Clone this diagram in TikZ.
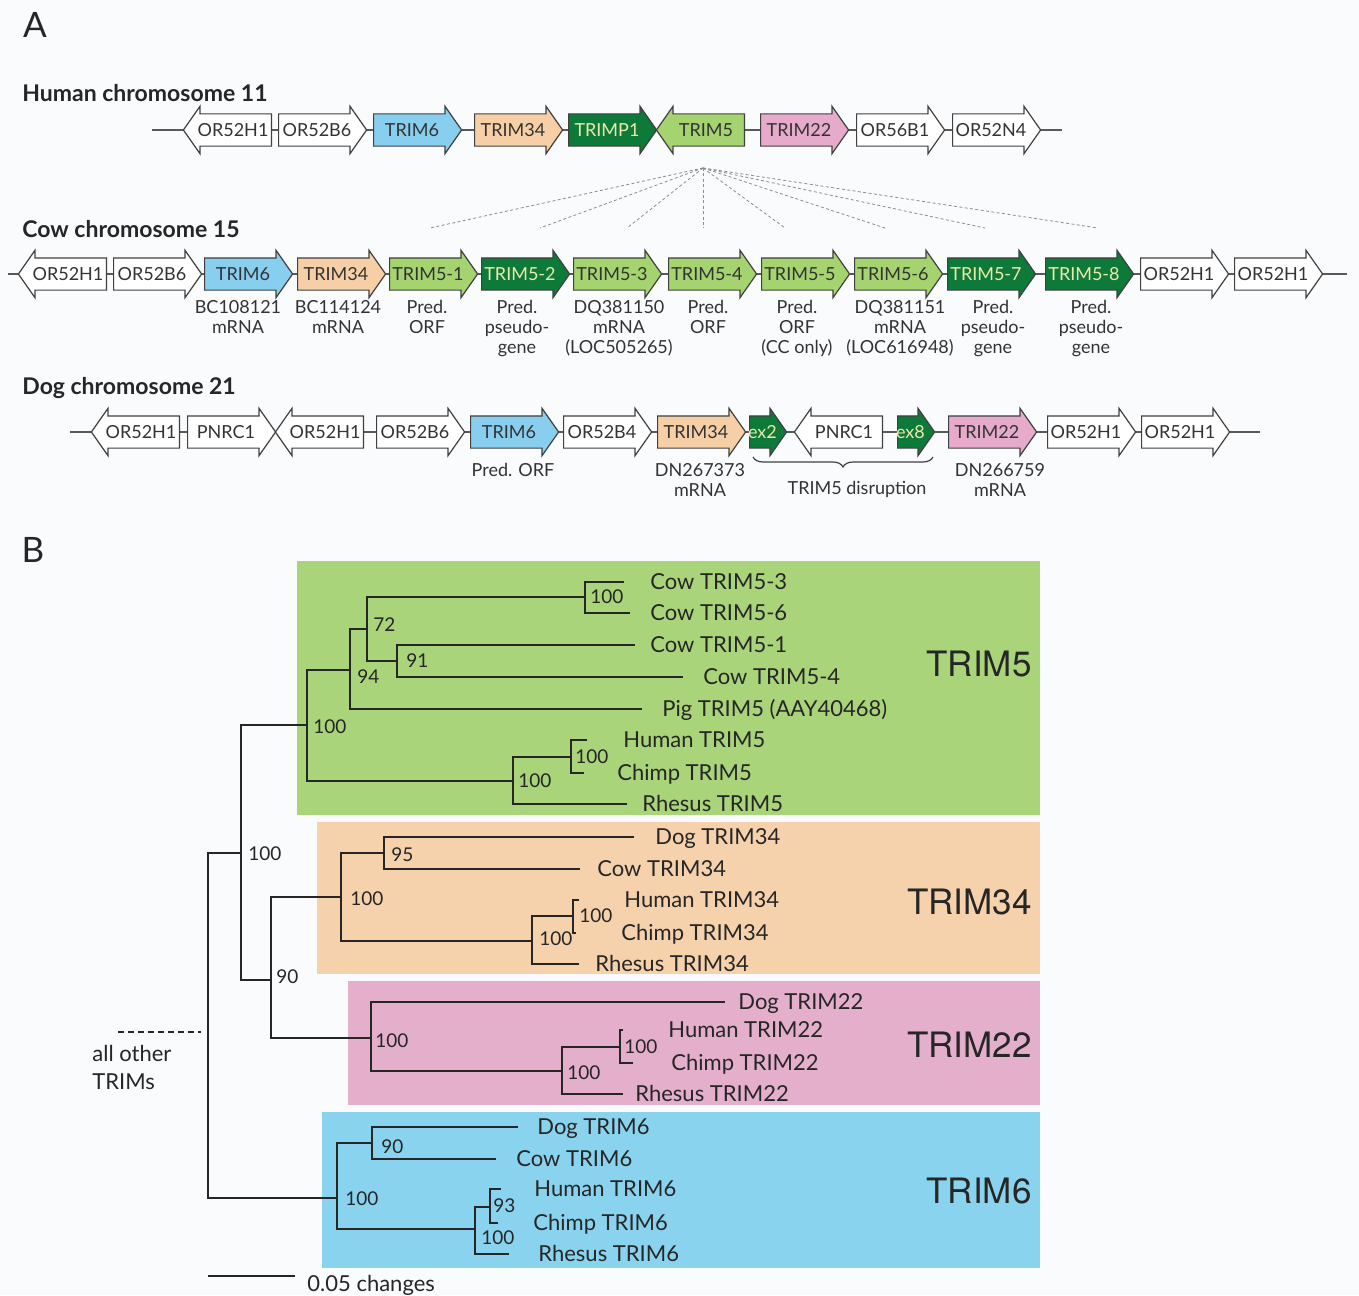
\documentclass[tikz,border=0pt]{standalone}
\usepackage{fontspec}
\setmainfont{Lato}
\newfontfamily\heros{TeX Gyre Heros}
\usetikzlibrary{shapes.arrows, decorations.pathreplacing, positioning}
\definecolor{paper}{HTML}{FAFBFD}
\definecolor{genesix}{HTML}{88CFEF}
\definecolor{genetf}{HTML}{F7CFA6}
\definecolor{genefive}{HTML}{A5D36F}
\definecolor{genedark}{HTML}{0D7A3A}
\definecolor{genett}{HTML}{E6AACB}
\definecolor{darklabel}{HTML}{EDE9A8}
\definecolor{boxfive}{HTML}{A9D47A}
\definecolor{boxtf}{HTML}{F6D2AC}
\definecolor{boxtt}{HTML}{E4AFCB}
\definecolor{boxsix}{HTML}{8AD3EF}

\begin{document}
\begin{tikzpicture}[x=0.5pt, y=-0.5pt,
    gene/.style={single arrow, draw=black!75, line width=0.6pt, fill=white, anchor=tail,
        minimum height=44pt, single arrow head extend=3.75pt, single arrow tip angle=110,
        inner xsep=-1pt, inner ysep=4.5pt, text height=6.5pt, text depth=0pt,
        font=\fontsize{9}{10}\selectfont, text=black!80},
    generev/.style={gene, shape border rotate=180},
    pseudo/.style={gene, fill=genedark, text=darklabel},
    exon/.style={pseudo, minimum height=18.5pt, inner xsep=-3pt},
    note/.style={font=\fontsize{9}{10}\selectfont, align=center, anchor=north, inner sep=0pt, text=black!80},
    chrom/.style={draw=black!65, line width=1pt},
    fanline/.style={draw=black!45, line width=0.4pt, dash pattern=on 1.5pt off 1.2pt},
    title/.style={font=\bfseries\fontsize{11.5}{12}\selectfont, anchor=west, inner sep=0pt, text height=8.3pt, text depth=0pt, text=black!85},
    panel/.style={font=\fontsize{17.5}{18}\selectfont, inner sep=0pt, text height=12.5pt, text depth=0pt, text=black!85},
    branch/.style={draw=black!85, line width=1pt},
    leaf/.style={font=\fontsize{11}{12}\selectfont, anchor=west, inner sep=0pt, text height=7.9pt, text depth=0pt, text=black!85},
    boot/.style={font=\fontsize{9.5}{10}\selectfont, anchor=west, inner sep=0pt, text height=6.8pt, text depth=0pt, text=black!85},
    clade/.style={font=\heros\fontsize{17.5}{18}\selectfont, anchor=east, inner sep=0pt, text height=12.6pt, text depth=0pt, text=black!85}
]
\fill[paper] (0,0) rectangle (1359,1295);
\useasboundingbox (0,0) rectangle (1359,1295);

\node[panel] (pA) at (35,25) {A};

\node[title] (humt) at (22,93) {Human chromosome 11};
\coordinate (hL) at (152,130);
\coordinate (hR) at (1062,130);
\draw[chrom] (hL) -- (hR);
\node[generev] (hOa) at (272,130) {OR52H1};
\node[gene] (hOb) at (278,130) {OR52B6};
\node[gene, fill=genesix] (hSix) at (373,130) {TRIM6};
\node[gene, fill=genetf] (hTf) at (474,130) {TRIM34};
\node[pseudo] (hP1) at (568,130) {TRIMP1};
\node[generev, fill=genefive] (hFive) at (745,130) {TRIM5};
\node[gene, fill=genett] (hTt) at (760,130) {TRIM22};
\node[gene] (hOc) at (856,130) {OR56B1};
\node[gene] (hOd) at (952,130) {OR52N4};

\coordinate (fan) at (703,168);
\foreach \x [count=\i] in {430,540,627,703,785,885,985,1098} {
    \coordinate (fe\i) at (\x,228);
    \draw[fanline] (fan) -- (fe\i);
}

\node[title] (cowt) at (22,229) {Cow chromosome 15};
\coordinate (cL) at (8,274);
\coordinate (cR) at (1347,274);
\draw[chrom] (cL) -- (cR);
\node[generev] (cOa) at (107,274) {OR52H1};
\node[gene] (cOb) at (113,274) {OR52B6};
\node[gene, fill=genesix] (cSix) at (204,274) {TRIM6};
\node[gene, fill=genetf] (cTf) at (297,274) {TRIM34};
\node[gene, fill=genefive] (cF1) at (389,274) {TRIM5-1};
\node[pseudo] (cF2) at (481,274) {TRIM5-2};
\node[gene, fill=genefive] (cF3) at (573,274) {TRIM5-3};
\node[gene, fill=genefive] (cF4) at (668,274) {TRIM5-4};
\node[gene, fill=genefive] (cF5) at (761,274) {TRIM5-5};
\node[gene, fill=genefive] (cF6) at (854,274) {TRIM5-6};
\node[pseudo] (cF7) at (947,274) {TRIM5-7};
\node[pseudo] (cF8) at (1045,274) {TRIM5-8};
\node[gene] (cOc) at (1140,274) {OR52H1};
\node[gene] (cOd) at (1234,274) {OR52H1};
\node[note] (cn1) at (238,300) {BC108121\\mRNA};
\node[note] (cn2) at (338,300) {BC114124\\mRNA};
\node[note] (cn3) at (427,300) {Pred.\\ORF};
\node[note] (cn4) at (517,300) {Pred.\\pseudo-\\gene};
\node[note] (cn5) at (619,300) {DQ381150\\mRNA\\(LOC505265)};
\node[note] (cn6) at (708,300) {Pred.\\ORF};
\node[note] (cn7) at (797,300) {Pred.\\ORF\\(CC only)};
\node[note] (cn8) at (900,300) {DQ381151\\mRNA\\(LOC616948)};
\node[note] (cn9) at (993,300) {Pred.\\pseudo-\\gene};
\node[note] (cn10) at (1091,300) {Pred.\\pseudo-\\gene};

\node[title] (dogt) at (22,386) {Dog chromosome 21};
\coordinate (dL) at (70,432);
\coordinate (dR) at (1260,432);
\draw[chrom] (dL) -- (dR);
\node[generev] (dOa) at (180,432) {OR52H1};
\node[gene] (dPa) at (187,432) {PNRC1};
\node[generev] (dOb) at (364,432) {OR52H1};
\node[gene] (dOc) at (376,432) {OR52B6};
\node[gene, fill=genesix] (dSix) at (470,432) {TRIM6};
\node[gene] (dOd) at (563,432) {OR52B4};
\node[gene, fill=genetf] (dTf) at (657,432) {TRIM34};
\node[exon] (dEx2) at (749,432) {ex2};
\node[generev] (dPb) at (883,432) {PNRC1};
\node[exon] (dEx8) at (897,432) {ex8};
\node[gene, fill=genett] (dTt) at (948,432) {TRIM22};
\node[gene] (dOe) at (1047,432) {OR52H1};
\node[gene] (dOf) at (1141,432) {OR52H1};
\node[note] (dn1) at (513,463) {Pred. ORF};
\node[note] (dn2) at (700,463) {DN267373\\mRNA};
\node[note] (dn3) at (1000,463) {DN266759\\mRNA};
\coordinate (brL) at (753,457);
\coordinate (brR) at (933,457);
\draw[decorate, decoration={brace, mirror, amplitude=5pt}, draw=black!75, line width=0.6pt] (brL) -- (brR);
\node[note] (dn4) at (857,481) {TRIM5 disruption};

\node[panel] (pB) at (33,550) {B};
\fill[boxfive] (297,561) rectangle (1040,815);
\fill[boxtf] (317,822) rectangle (1040,974);
\fill[boxtt] (348,981) rectangle (1040,1105);
\fill[boxsix] (322,1112) rectangle (1040,1268);
\node[clade] (kFive) at (1032,664) {TRIM5};
\node[clade] (kTf) at (1032,902) {TRIM34};
\node[clade] (kTt) at (1032,1045) {TRIM22};
\node[clade] (kSix) at (1032,1191) {TRIM6};

\coordinate (nRoot) at (208,1032);
\coordinate (nA) at (241,853);
\coordinate (nB) at (271,980);
\coordinate (nFive) at (307,725);
\coordinate (nF94) at (350,670);
\coordinate (nF72) at (367,629);
\coordinate (nF36) at (585,597);
\coordinate (nF91) at (397,661);
\coordinate (nFp) at (513,781);
\coordinate (nFhc) at (571,757);
\coordinate (nTf) at (341,897);
\coordinate (nTf95) at (384,853);
\coordinate (nTfp) at (532,941);
\coordinate (nTfhc) at (573,916);
\coordinate (nTt) at (371,1038);
\coordinate (nTtp) at (562,1071);
\coordinate (nTthc) at (620,1047);
\coordinate (nSix) at (337,1198);
\coordinate (nS90) at (372,1143);
\coordinate (nSp) at (475,1229);
\coordinate (nShc) at (490,1207);

\draw[branch] (nRoot) |- (nA);
\draw[branch] (nRoot) |- (nSix);
\draw[branch] (nA) |- (nFive);
\draw[branch] (nA) |- (nB);
\draw[branch] (nFive) |- (nF94);
\draw[branch] (nFive) |- (nFp);
\draw[branch] (nF94) |- (nF72);
\draw[branch] (nF72) |- (nF36);
\draw[branch] (nF72) |- (nF91);
\draw[branch] (nFp) |- (nFhc);
\draw[branch] (nB) |- (nTf);
\draw[branch] (nB) |- (nTt);
\draw[branch] (nTf) |- (nTf95);
\draw[branch] (nTf) |- (nTfp);
\draw[branch] (nTfp) |- (nTfhc);
\draw[branch] (nTt) |- (nTtp);
\draw[branch] (nTtp) |- (nTthc);
\draw[branch] (nSix) |- (nS90);
\draw[branch] (nSix) |- (nSp);
\draw[branch] (nSp) |- (nShc);

\node[leaf] (lF3) at (650,582) {Cow TRIM5-3};
\node[leaf] (lF6) at (650,613) {Cow TRIM5-6};
\node[leaf] (lF1) at (650,645) {Cow TRIM5-1};
\node[leaf] (lF4) at (703,677) {Cow TRIM5-4};
\node[leaf] (lFpig) at (662,709) {Pig TRIM5 (AAY40468)};
\node[leaf] (lFhu) at (623,740) {Human TRIM5};
\node[leaf] (lFch) at (617,773) {Chimp TRIM5};
\node[leaf] (lFrh) at (642,804) {Rhesus TRIM5};
\node[leaf] (lTfdo) at (655,837) {Dog TRIM34};
\node[leaf] (lTfco) at (597,869) {Cow TRIM34};
\node[leaf] (lTfhu) at (624,900) {Human TRIM34};
\node[leaf] (lTfch) at (621,933) {Chimp TRIM34};
\node[leaf] (lTfrh) at (595,964) {Rhesus TRIM34};
\node[leaf] (lTtdo) at (738,1002) {Dog TRIM22};
\node[leaf] (lTthu) at (668,1030) {Human TRIM22};
\node[leaf] (lTtch) at (671,1063) {Chimp TRIM22};
\node[leaf] (lTtrh) at (635,1094) {Rhesus TRIM22};
\node[leaf] (lSdo) at (537,1127) {Dog TRIM6};
\node[leaf] (lSco) at (516,1159) {Cow TRIM6};
\node[leaf] (lShu) at (534,1189) {Human TRIM6};
\node[leaf] (lSch) at (533,1223) {Chimp TRIM6};
\node[leaf] (lSrh) at (538,1254) {Rhesus TRIM6};

\draw[branch] (nF36) |- ([xshift=-13pt]lF3.west);
\draw[branch] (nF36) |- ([xshift=-10pt]lF6.west);
\draw[branch] (nF91) |- ([xshift=-7.5pt]lF1.west);
\draw[branch] (nF91) |- ([xshift=-10pt]lF4.west);
\draw[branch] (nF94) |- ([xshift=-10pt]lFpig.west);
\draw[branch] (nFhc) |- ([xshift=-18pt]lFhu.west);
\draw[branch] (nFhc) |- ([xshift=-16.5pt]lFch.west);
\draw[branch] (nFp) |- ([xshift=-7.5pt]lFrh.west);
\draw[branch] (nTf95) |- ([xshift=-10.5pt]lTfdo.west);
\draw[branch] (nTf95) |- ([xshift=-8.5pt]lTfco.west);
\draw[branch] (nTfhc) |- ([xshift=-22.5pt]lTfhu.west);
\draw[branch] (nTfhc) |- ([xshift=-22.5pt]lTfch.west);
\draw[branch] (nTfp) |- ([xshift=-8pt]lTfrh.west);
\draw[branch] (nTt) |- ([xshift=-6.5pt]lTtdo.west);
\draw[branch] (nTthc) |- ([xshift=-22.5pt]lTthu.west);
\draw[branch] (nTthc) |- ([xshift=-19pt]lTtch.west);
\draw[branch] (nTtp) |- ([xshift=-6pt]lTtrh.west);
\draw[branch] (nS90) |- ([xshift=-9.5pt]lSdo.west);
\draw[branch] (nS90) |- ([xshift=-10pt]lSco.west);
\draw[branch] (nShc) |- ([xshift=-16.5pt]lShu.west);
\draw[branch] (nShc) |- ([xshift=-17.5pt]lSch.west);
\draw[branch] (nSp) |- ([xshift=-14.5pt]lSrh.west);

\node[boot] (bF36) at (590,597) {100};
\node[boot] (bF72) at (373,625) {72};
\node[boot] (bF91) at (406,661) {91};
\node[boot] (bF94) at (357,677) {94};
\node[boot] (bFive) at (313,727) {100};
\node[boot] (bFp) at (518,781) {100};
\node[boot] (bFhc) at (575,757) {100};
\node[boot] (bA) at (248,854) {100};
\node[boot] (bB) at (276,977) {90};
\node[boot] (bTf) at (350,899) {100};
\node[boot] (bTf95) at (391,855) {95};
\node[boot] (bTfp) at (539,939) {100};
\node[boot] (bTfhc) at (579,916) {100};
\node[boot] (bTt) at (375,1041) {100};
\node[boot] (bTtp) at (567,1073) {100};
\node[boot] (bTthc) at (624,1047) {100};
\node[boot] (bSix) at (345,1199) {100};
\node[boot] (bS90) at (381,1147) {90};
\node[boot] (bSp) at (481,1238) {100};
\node[boot] (bShc) at (493,1206) {93};

\coordinate (oA) at (118,1032);
\coordinate (oB) at (201,1032);
\draw[branch, dash pattern=on 3pt off 2pt] (oA) -- (oB);
\node[font=\fontsize{11}{14}\selectfont, anchor=north west, align=left, inner sep=0pt, text=black!85] (oth) at (92,1045) {all other\\TRIMs};

\coordinate (sbL) at (208,1276);
\coordinate (sbR) at (295,1276);
\draw[branch] (sbL) -- (sbR);
\node[leaf] (sbT) at (307,1284) {0.05 changes};
\end{tikzpicture}
\end{document}
